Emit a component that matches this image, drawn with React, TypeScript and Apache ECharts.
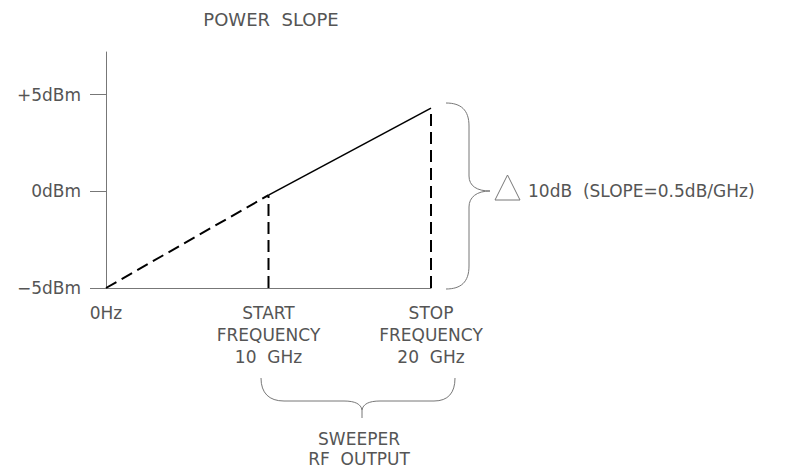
import React, { useEffect, useRef } from 'react';
import * as echarts from 'echarts';

// Frequency axis (GHz) and its tick labels
const frequencyTicks = [0, 10, 20];
const frequencyLabels = ['0Hz', 'START\nFREQUENCY\n10  GHz', 'STOP\nFREQUENCY\n20  GHz'];
// Power axis (dBm) and its tick labels
const powerTicks = [-5, 0, 5];
const powerLabels = ['−5dBm', '0dBm', '+5dBm'];
// Power vs frequency, as drawn
const extrapolatedSlope = [[0, -5], [10, -0.2]];
const sweepSlope = [[10, -0.2], [20, 4.3]];
const startMarker = [[10, -5], [10, -0.2]];
const stopMarker = [[20, -5], [20, 4.3]];

const FONT = "'DejaVu Sans', sans-serif";
const TEXT = '#555';
const GREY = '#777';

let shapesRegistered = false;
function registerShapes() {
  if (shapesRegistered) return;
  shapesRegistered = true;
  echarts.graphic.registerShape(
    'rightBrace',
    echarts.graphic.extendPath(
      'M446,103 C461,103 469,110 469,126 L469,176 C469,186 477,191 490,191 C477,191 469,197 469,207 L469,266 C469,282 461,289 446,289',
      {}
    )
  );
  echarts.graphic.registerShape(
    'bottomBrace',
    echarts.graphic.extendPath(
      'M261,378 C261,393 269,401 284,401 L344,401 C355,401 361,404 362,410 L362,418 M362,410 C363,404 369,401 380,401 L434,401 C448,401 455,393 455,378',
      {}
    )
  );
}

export default function App() {
  const ref = useRef<HTMLDivElement>(null);
  useEffect(() => {
    if (!ref.current) return;
    registerShapes();
    const chart = echarts.init(ref.current, null, { renderer: 'svg' });
    const dashed = { color: '#000', width: 2, type: [12, 6] as number[] };
    const lineSeries = (data: number[][], lineStyle: any) => ({
      type: 'line',
      data,
      symbol: 'none',
      showSymbol: false,
      clip: false,
      lineStyle,
      silent: true,
    });
    chart.setOption({
      animation: false,
      backgroundColor: '#fff',
      grid: { left: 106, top: 52, width: 325, height: 236 },
      xAxis: {
        type: 'value',
        min: 0,
        max: 20,
        interval: 10,
        axisLine: { show: true, onZero: false, lineStyle: { color: GREY, width: 1 } },
        axisTick: { show: false },
        splitLine: { show: false },
        axisLabel: {
          margin: 14,
          color: TEXT,
          fontFamily: FONT,
          fontSize: 17,
          lineHeight: 22,
          align: 'center',
          formatter: (v: number) => {
            const i = frequencyTicks.indexOf(v);
            return i >= 0 ? frequencyLabels[i] : '';
          },
        },
      },
      yAxis: {
        type: 'value',
        min: -5,
        max: 7.2,
        axisLine: { show: true, onZero: false, lineStyle: { color: GREY, width: 1 } },
        axisTick: {
          show: true,
          inside: false,
          length: 16,
          customValues: powerTicks,
          lineStyle: { color: GREY, width: 1 },
        },
        splitLine: { show: false },
        axisLabel: {
          margin: 25,
          color: TEXT,
          fontFamily: FONT,
          fontSize: 17,
          customValues: powerTicks,
          formatter: (v: number) => {
            const i = powerTicks.indexOf(v);
            return i >= 0 ? powerLabels[i] : '';
          },
        },
      },
      series: [
        lineSeries(extrapolatedSlope, dashed),
        lineSeries(sweepSlope, { color: '#000', width: 1.6, type: 'solid' }),
        lineSeries(startMarker, dashed),
        lineSeries(stopMarker, dashed),
      ],
      graphic: [
        {
          type: 'text',
          x: 271,
          y: 19,
          style: {
            text: 'POWER  SLOPE',
            fill: TEXT,
            font: `18px ${FONT}`,
            textAlign: 'center',
            textVerticalAlign: 'middle',
          },
        },
        {
          type: 'rightBrace',
          x: 0,
          y: 0,
          style: { stroke: GREY, fill: 'none', lineWidth: 1 },
        },
        {
          type: 'polygon',
          shape: { points: [[495, 200], [520, 200], [507.5, 175]] },
          style: { stroke: GREY, fill: 'none', lineWidth: 1 },
        },
        {
          type: 'text',
          x: 528,
          y: 191,
          style: {
            text: '10dB  (SLOPE=0.5dB/GHz)',
            fill: TEXT,
            font: `17px ${FONT}`,
            textAlign: 'left',
            textVerticalAlign: 'middle',
          },
        },
        {
          type: 'bottomBrace',
          x: 0,
          y: 0,
          style: { stroke: GREY, fill: 'none', lineWidth: 1 },
        },
        {
          type: 'text',
          x: 359,
          y: 448.5,
          style: {
            text: 'SWEEPER\nRF  OUTPUT',
            fill: TEXT,
            font: `17px ${FONT}`,
            lineHeight: 20,
            textAlign: 'center',
            textVerticalAlign: 'middle',
          },
        },
      ],
    });
    return () => chart.dispose();
  }, []);
  return (
    <div
      ref={ref}
      style={{ position: 'absolute', left: 0, top: 0, width: 798, height: 472 }}
    />
  );
}
